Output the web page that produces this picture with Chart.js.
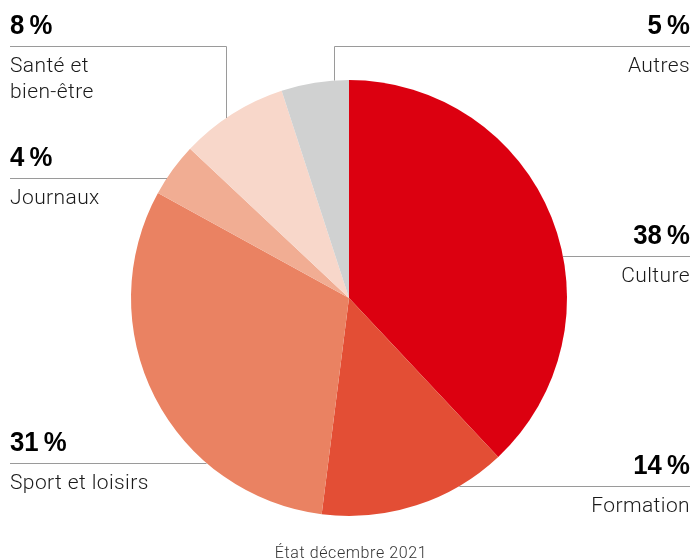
<!DOCTYPE html>
<html>
<head>
<meta charset="utf-8">
<script src="https://cdn.jsdelivr.net/npm/chart.js@4/dist/chart.umd.min.js"></script>
<style>
  body { margin: 0; background: #fff; }
  #wrap { width: 692px; height: 560px; position: relative; }
</style>
</head>
<body>
<div id="wrap"><canvas id="pieChart" width="692" height="560"></canvas></div>
<script>
// data
const categories = ["Culture", "Formation", "Sport et loisirs", "Journaux", "Santé et\nbien-être", "Autres"];
const shares = [38, 14, 31, 4, 8, 5];
const colors = ["#dc0010", "#e34e35", "#ea8262", "#f1ad93", "#f8d7ca", "#d0d1d1"];
const footnote = "État décembre 2021";

// where each label sits (side, line y, optional vertical leader x)
const labelLayout = [
  { side: "right", lineY: 256 },
  { side: "right", lineY: 486 },
  { side: "left", lineY: 463 },
  { side: "left", lineY: 178 },
  { side: "left", lineY: 46, vx: 226 },
  { side: "right", lineY: 46, vx: 334 }
];

const pctFont = "bold 28px 'Liberation Sans', Arial, sans-serif";
const nameFont = "300 21px Roboto, 'Liberation Sans', sans-serif";

const leaderLabels = {
  id: "leaderLabels",
  afterDraw(chart) {
    const ctx = chart.ctx;
    const arc = chart.getDatasetMeta(0).data[0];
    const cx = arc.x, cy = arc.y, r = arc.outerRadius;
    const left = 10, right = 690;
    ctx.save();
    ctx.strokeStyle = "#9a9a9a";
    ctx.lineWidth = 1;

    labelLayout.forEach((l, i) => {
      const y = Math.round(l.lineY) + 0.5;
      ctx.beginPath();
      if (l.vx !== undefined) {
        const x = Math.round(l.vx) + 0.5;
        const edgeY = cy - Math.sqrt(r * r - (l.vx - cx) ** 2);
        ctx.moveTo(l.side === "left" ? left : right, y);
        ctx.lineTo(x, y);
        ctx.lineTo(x, edgeY);
      } else {
        const dx = Math.sqrt(r * r - (l.lineY - cy) ** 2);
        const edgeX = l.side === "left" ? cx - dx : cx + dx;
        ctx.moveTo(l.side === "left" ? left : right, y);
        ctx.lineTo(edgeX, y);
      }
      ctx.stroke();

      const tx = l.side === "left" ? left : right;
      ctx.textAlign = l.side === "left" ? "left" : "right";
      ctx.textBaseline = "alphabetic";

      // bold, slightly condensed percentage
      ctx.save();
      ctx.translate(tx, l.lineY - 12);
      ctx.scale(0.92, 1);
      ctx.fillStyle = "#000";
      ctx.font = pctFont;
      ctx.fillText(shares[i] + "\u2009%", 0, 0);
      ctx.restore();

      ctx.fillStyle = "#1a1a1a";
      ctx.font = nameFont;
      ctx.letterSpacing = "0.4px";
      categories[i].split("\n").forEach((line, k) => {
        ctx.fillText(line, tx, l.lineY + 26 + k * 26);
      });
      ctx.letterSpacing = "0px";
    });

    ctx.textAlign = "center";
    ctx.font = "300 16px Roboto, 'Liberation Sans', sans-serif";
    ctx.letterSpacing = "0.6px";
    ctx.fillStyle = "#333";
    ctx.fillText(footnote, cx + 2, 558);
    ctx.restore();
  }
};

new Chart(document.getElementById("pieChart").getContext("2d"), {
  type: "pie",
  data: {
    labels: categories,
    datasets: [{
      data: shares,
      backgroundColor: colors,
      borderWidth: 0
    }]
  },
  options: {
    responsive: false,
    animation: false,
    layout: { padding: { top: 80, bottom: 44, left: 131, right: 125 } },
    plugins: {
      legend: { display: false },
      tooltip: { enabled: false }
    }
  },
  plugins: [leaderLabels]
});
</script>
</body>
</html>
